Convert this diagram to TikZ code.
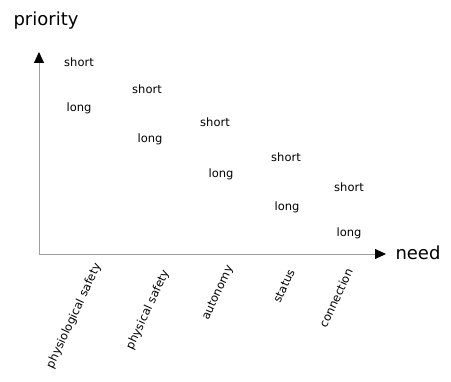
\documentclass[tikz,border=0pt]{standalone}
\usepackage{fontspec}
\setmainfont{DejaVu Sans}
\usetikzlibrary{arrows.meta}
\begin{document}
\begin{tikzpicture}[x=1pt,y=-1pt,
    axis/.style={draw=gray!75, line width=0.9pt, -{Triangle[black,length=11pt,width=10pt]}},
    big/.style={font=\fontsize{18}{20}\selectfont},
    small/.style={font=\fontsize{11.5}{13}\selectfont},
    tick/.style={font=\fontsize{11.5}{13}\selectfont, rotate=65}]
  \useasboundingbox (0,0) rectangle (451,382);
  \draw
    (39,254) coordinate (o)
    (39,52) coordinate (ytip)
    (386,254) coordinate (xtip)
    (46,21) node[big] (priority){priority}
    (418,253) node[big] (need){need}
    (79,62) node[small] (s1){short}
    (79,108) node[small] (l1){long}
    (147,89) node[small] (s2){short}
    (150,139) node[small] (l2){long}
    (215,122) node[small] (s3){short}
    (221,174) node[small] (l3){long}
    (286,157) node[small] (s4){short}
    (287,207) node[small] (l4){long}
    (349,187) node[small] (s5){short}
    (349,233) node[small] (l5){long}
    (74,316) node[tick] (phys){physiological safety}
    (148,310) node[tick] (safe){physical safety}
    (218,293) node[tick] (auto){autonomy}
    (284,286) node[tick] (stat){status}
    (336,298) node[tick] (conn){connection};
  \begin{scope}[axis]
    \draw (o) to (ytip);
    \draw (o) to (xtip);
  \end{scope}
\end{tikzpicture}
\end{document}
